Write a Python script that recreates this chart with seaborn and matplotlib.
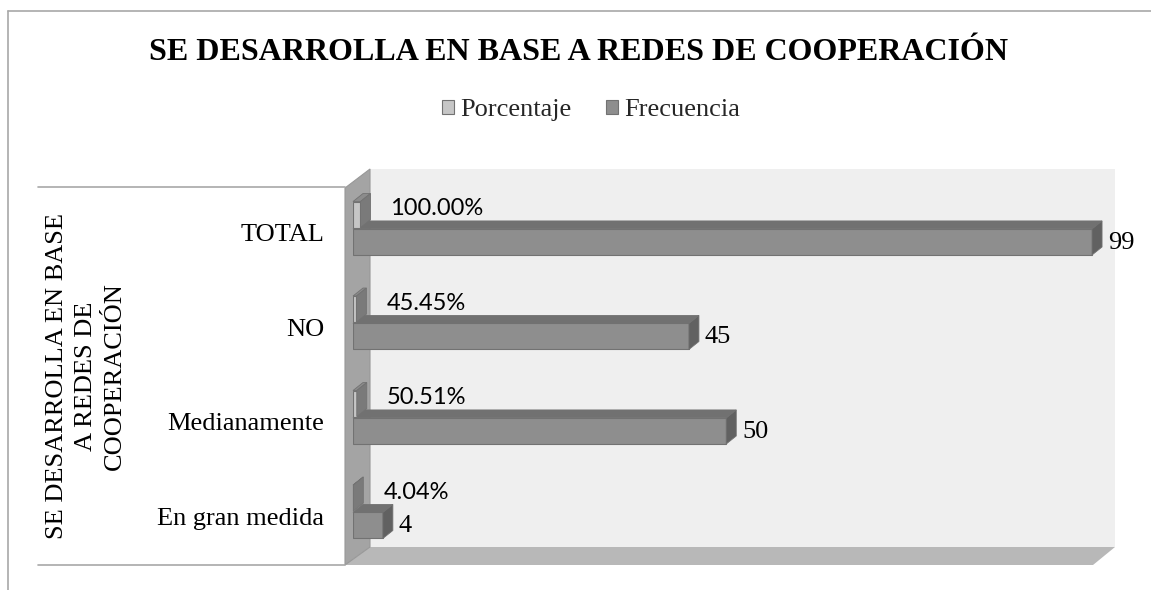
import matplotlib
matplotlib.use("Agg")
import matplotlib.pyplot as plt
from matplotlib.patches import Polygon, Patch
from matplotlib.transforms import offset_copy
import seaborn as sns
import pandas as pd

# ---- data ----
categorias = ["TOTAL", "NO", "Medianamente", "En gran medida"]
frecuencia = [99, 45, 50, 4]
porcentaje = [1.0, 0.4545, 0.5051, 0.0404]
series = ["Porcentaje", "Frecuencia"]
titulo = "SE DESARROLLA EN BASE A REDES DE COOPERACIÓN"
titulo_eje = "SE DESARROLLA EN BASE\nA REDES DE\nCOOPERACIÓN"

# ---- styling ----
W, H = 1151, 590
sns.set_theme(style="white")
SERIF = ["Liberation Serif", "DejaVu Serif"]
SANS = ["Lato", "DejaVu Sans"]
plt.rcParams["font.family"] = SERIF

col_front = {"Porcentaje": "#c6c6c6", "Frecuencia": "#8e8e8e"}
col_top = {"Porcentaje": "#8c8c8c", "Frecuencia": "#717171"}
col_side = {"Porcentaje": "#7a7a7a", "Frecuencia": "#616161"}
edge = "#727272"
DX, DY = 10, 8  # bar depth in pixels

fig = plt.figure(figsize=(W / 100, H / 100), dpi=100)
fig.patch.set_facecolor("white")

# background layer in pixel coordinates: walls, frame, titles
bg = fig.add_axes([0, 0, 1, 1])
bg.set_xlim(0, W)
bg.set_ylim(H, 0)
bg.axis("off")
bg.set_zorder(0)

bg.add_patch(Polygon([(370, 169), (1115, 169), (1115, 547), (370, 547)],
                     closed=True, fc="#efefef", ec="none"))
bg.add_patch(Polygon([(345, 565), (370, 547), (1115, 547), (1093, 565)],
                     closed=True, fc="#b8b8b8", ec="none"))
bg.add_patch(Polygon([(345, 188), (370, 169), (370, 547), (345, 565)],
                     closed=True, fc="#a4a4a4", ec="#989898", lw=0.8))

frame = "#a8a8a8"
bg.plot([8, 8], [11, H], color=frame, lw=1.2)
bg.plot([8, W], [11, 11], color=frame, lw=1.2)
bg.plot([38, 345], [187, 187], color=frame, lw=1.2)
bg.plot([38, 345], [565, 565], color=frame, lw=1.2)

bg.text(579, 52, titulo, ha="center", va="center", fontsize=23,
        fontweight="bold", family=SERIF, color="black")
bg.text(86, 376, titulo_eje, rotation=90, ha="center", va="center",
        multialignment="center", fontsize=19, linespacing=1.4,
        family=SERIF, color="black")

handles = [Patch(fc=col_front[s], ec=edge, lw=0.8) for s in series]
bg.legend(handles=handles, labels=series, loc="center",
          bbox_to_anchor=(591, 110), bbox_transform=bg.transData,
          ncol=2, frameon=False, prop={"family": SERIF, "size": 19},
          handlelength=0.45, handleheight=0.45, handletextpad=0.25,
          columnspacing=1.3, borderpad=0)

# ---- bars ----
ax = fig.add_axes([353 / W, 1 - 559 / H, 746.5 / W, 378 / H])
ax.set_zorder(1)

df = pd.DataFrame({
    "categoria": categorias * 2,
    "serie": [series[0]] * len(categorias) + [series[1]] * len(categorias),
    "valor": porcentaje + frecuencia,
})
sns.barplot(data=df, x="valor", y="categoria", hue="serie", hue_order=series,
            order=categorias, palette=[col_front[s] for s in series],
            orient="h", width=0.58, gap=0.05, saturation=1,
            edgecolor=edge, linewidth=0.8, legend=False, ax=ax)
ax.set_xlim(0, 100)
ax.set_ylim(3.5, -0.5)
ax.set_autoscale_on(False)
ax.axis("off")

to_px = ax.transData
to_data = ax.transData.inverted()

for serie, cont in zip(series, ax.containers):
    for bar in cont:
        x0, y0 = bar.get_x(), bar.get_y()
        w, h = bar.get_width(), bar.get_height()
        pts = to_px.transform([(x0, y0), (x0 + w, y0 + h)])
        xl, xr = sorted(pts[:, 0])
        yb, yt = sorted(pts[:, 1])
        top = [(xl, yt), (xr, yt), (xr + DX, yt + DY), (xl + DX, yt + DY)]
        side = [(xr, yt), (xr + DX, yt + DY), (xr + DX, yb + DY), (xr, yb)]
        z = 5 - (y0 + h / 2)
        bar.set_zorder(z)
        for poly, col in ((top, col_top[serie]), (side, col_side[serie])):
            ax.add_patch(Polygon(to_data.transform(poly), closed=True,
                                 fc=col, ec=edge, lw=0.6, zorder=z,
                                 clip_on=False))

# value labels
pct_bars, freq_bars = ax.containers[0], ax.containers[1]
t_pct = offset_copy(ax.transData, fig=fig, x=30, y=6, units="dots")
for bar, p in zip(pct_bars, porcentaje):
    yc = bar.get_y() + bar.get_height() / 2
    ax.text(p, yc, f"{p:.2%}", transform=t_pct, ha="left", va="center",
            fontsize=17, family=SANS, color="black", zorder=20)

t_freq = offset_copy(ax.transData, fig=fig, x=16, y=-1, units="dots")
for bar, f in zip(freq_bars, frecuencia):
    yc = bar.get_y() + bar.get_height() / 2
    ax.text(f, yc, str(f), transform=t_freq, ha="left", va="center",
            fontsize=19, family=SERIF, color="black", zorder=20)

# category labels
t_cat = offset_copy(ax.transData, fig=fig, x=-29, y=-7, units="dots")
for i, cat in enumerate(categorias):
    ax.text(0, i, cat, transform=t_cat, ha="right", va="center",
            fontsize=19, family=SERIF, color="black")

fig.savefig("out.png", dpi=100, facecolor="white")
